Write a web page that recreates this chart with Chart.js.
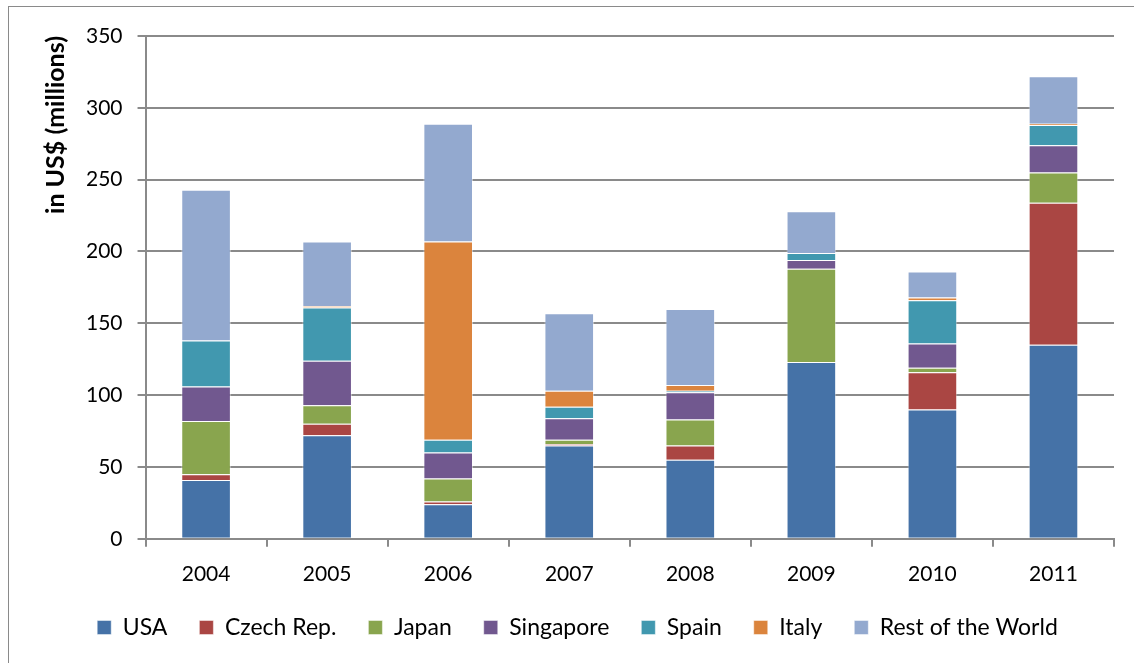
<!DOCTYPE html>
<html>
<head>
<meta charset="utf-8">
<script src="https://cdn.jsdelivr.net/npm/chart.js@4.4.0/dist/chart.umd.min.js"></script>
<style>
  html, body { margin: 0; padding: 0; background: #fff; }
  #wrap { position: relative; width: 1134px; height: 663px; }
  #frame { position: absolute; left: 8px; top: 6px; right: 0; bottom: 0;
           border-left: 1px solid #8a8a8a; border-top: 1px solid #8a8a8a; }
  #myChart { position: absolute; left: 0; top: 0; }
</style>
</head>
<body>
<div id="wrap">
  <div id="frame"></div>
  <canvas id="myChart" width="1134" height="663"></canvas>
</div>
<script>
const years = ["2004", "2005", "2006", "2007", "2008", "2009", "2010", "2011"];

const usa = [41, 72, 24, 65, 55, 123, 90, 135];
const czech = [4, 8, 2, 1, 10, 0, 26, 99];
const japan = [37, 13, 16, 3, 18, 65, 3, 21];
const singapore = [24, 31, 18, 15, 19, 6, 17, 19];
const spain = [32, 37, 9, 8, 1, 5, 30, 14];
const italy = [0, 1, 138, 11, 4, 0, 2, 1];
const restOfWorld = [105, 45, 82, 54, 53, 29, 18, 33];

const yTicks = [0, 50, 100, 150, 200, 250, 300, 350];

const font = "Lato, 'Open Sans', sans-serif";
Chart.defaults.font.family = font;
Chart.defaults.color = "#000";

const makeSet = (label, data, color) => ({
  label,
  data,
  backgroundColor: color,
  borderColor: "rgba(255,255,255,0.45)",
  borderWidth: 1,
  barPercentage: 0.41,
  categoryPercentage: 1,
});

const ctx = document.getElementById("myChart");

new Chart(ctx, {
  type: "bar",
  data: {
    labels: years,
    datasets: [
      makeSet("USA", usa, "#4572A7"),
      makeSet("Czech Rep.", czech, "#AA4643"),
      makeSet("Japan", japan, "#89A54E"),
      makeSet("Singapore", singapore, "#71588F"),
      makeSet("Spain", spain, "#4198AF"),
      makeSet("Italy", italy, "#DB843D"),
      makeSet("Rest of the World", restOfWorld, "#93A9CF"),
    ],
  },
  options: {
    responsive: false,
    animation: false,
    layout: {
      padding: { left: 41, right: 20, top: 36, bottom: 14 },
    },
    scales: {
      x: {
        stacked: true,
        // pull the legend closer to the year labels
        afterFit: (scale) => {
          scale.height -= 18;
        },
        border: { color: "#8a8a8a", width: 2 },
        grid: {
          drawOnChartArea: false,
          drawTicks: true,
          tickLength: 8,
          color: "#8a8a8a",
          lineWidth: 2,
        },
        ticks: { font: { size: 21 }, padding: 15 },
      },
      y: {
        stacked: true,
        min: 0,
        max: 350,
        afterBuildTicks: (axis) => {
          axis.ticks = yTicks.map((v) => ({ value: v }));
        },
        border: { color: "#8a8a8a", width: 2 },
        grid: {
          color: "#8a8a8a",
          lineWidth: 2,
          tickLength: 8,
        },
        ticks: { font: { size: 21 }, padding: 15 },
        title: {
          display: true,
          text: "in US$ (millions)",
          align: "end",
          font: { size: 25, weight: "bold" },
          padding: { top: 0, bottom: 0 },
        },
      },
    },
    plugins: {
      legend: {
        position: "bottom",
        labels: {
          boxWidth: 14,
          boxHeight: 14,
          padding: 32,
          font: { size: 23 },
        },
      },
      tooltip: { enabled: false },
    },
  },
});
</script>
</body>
</html>
